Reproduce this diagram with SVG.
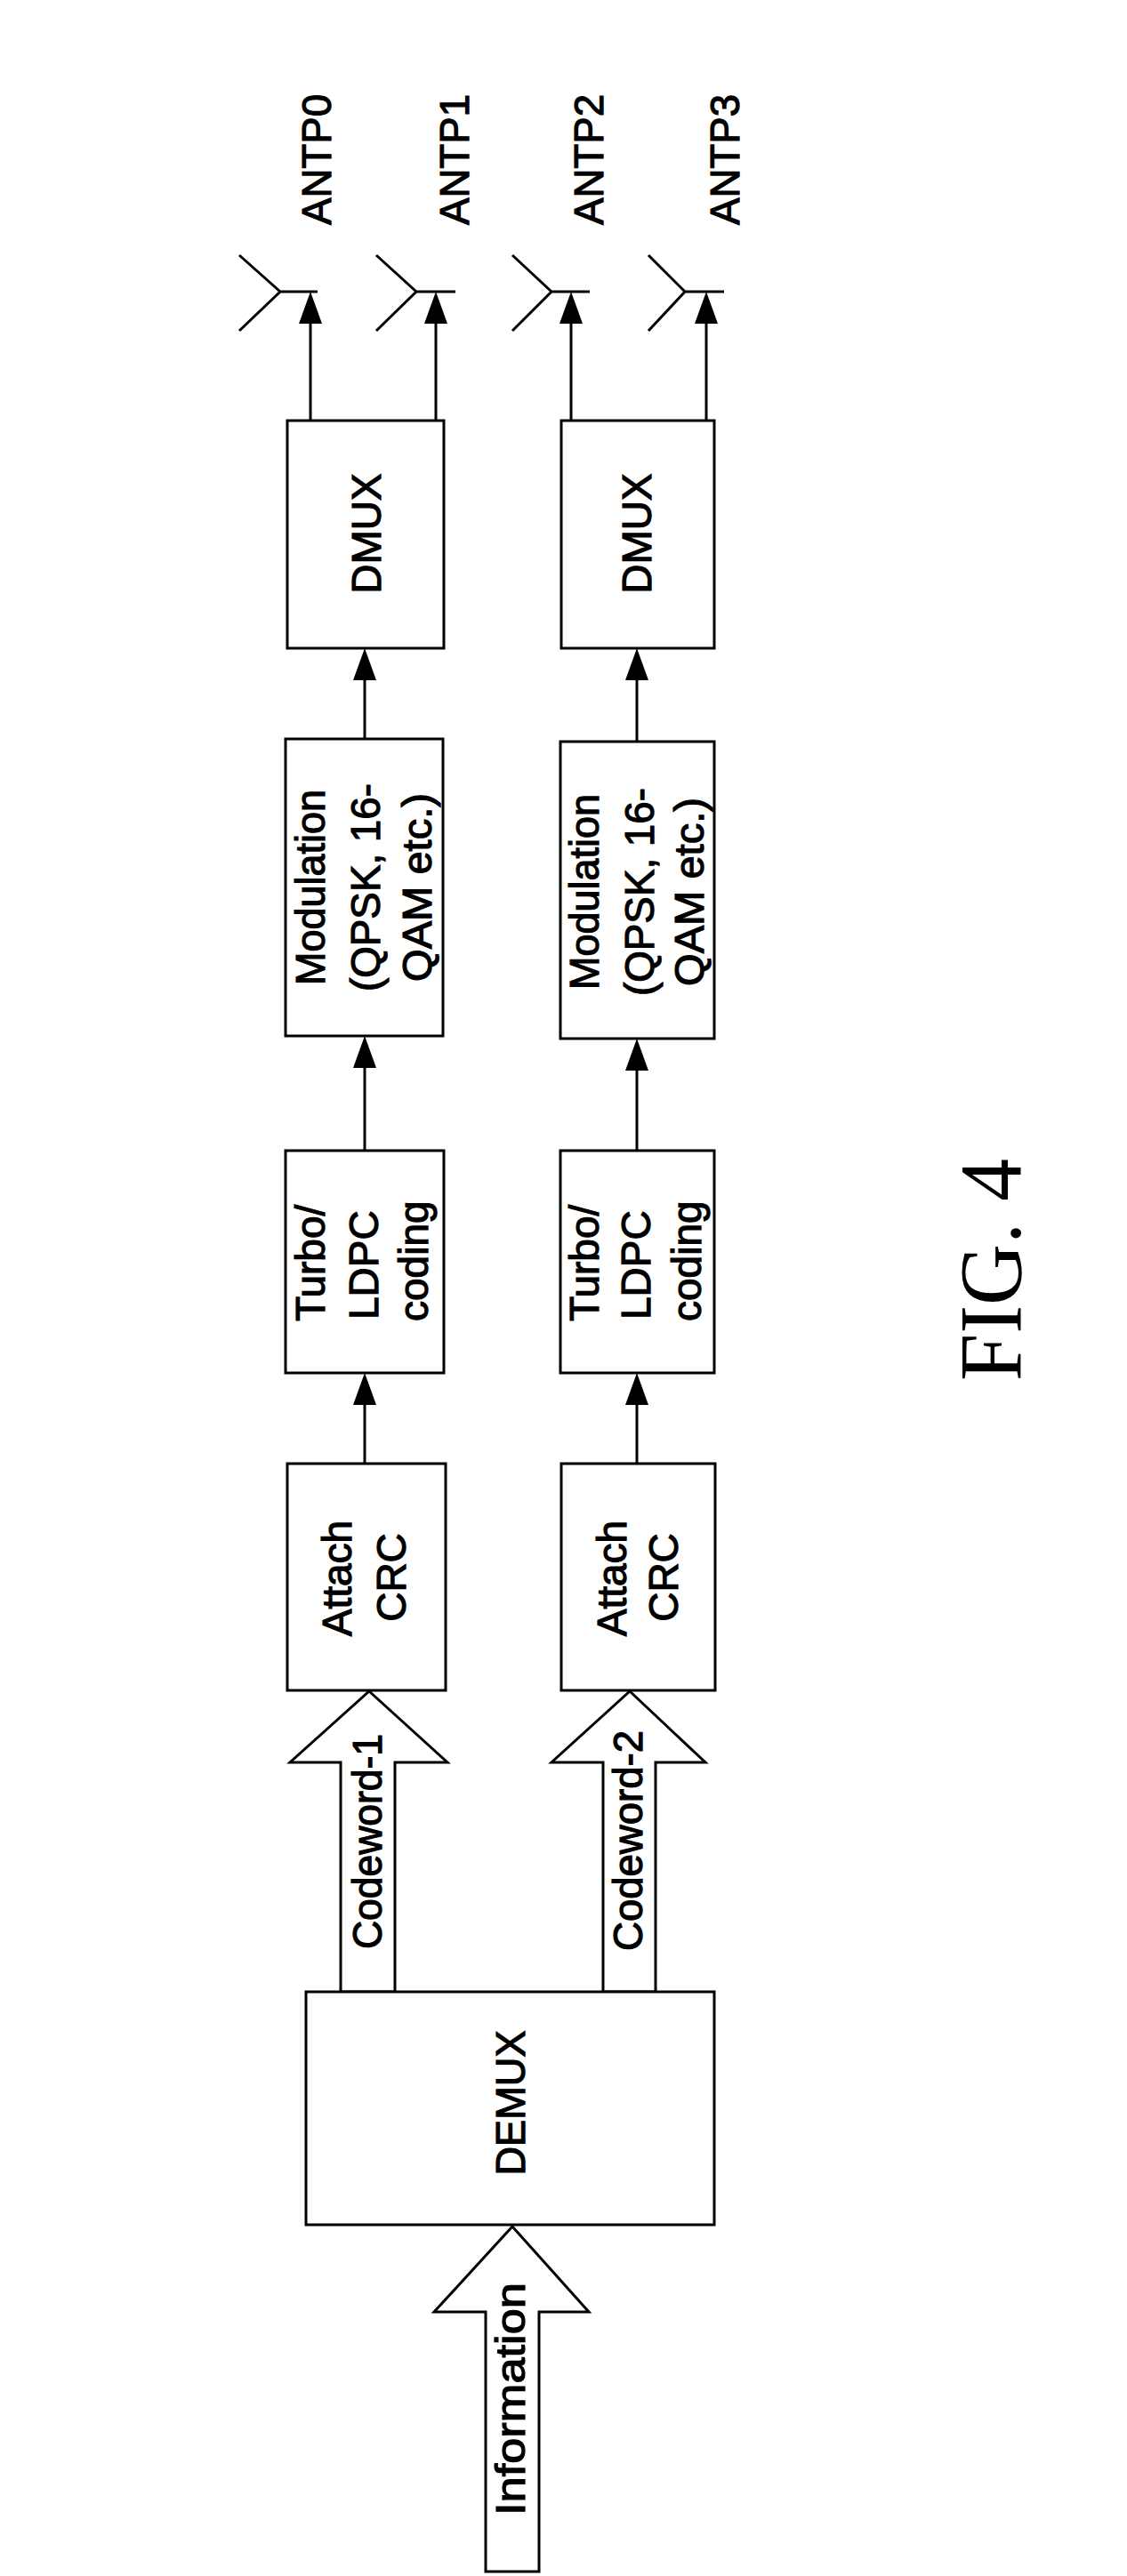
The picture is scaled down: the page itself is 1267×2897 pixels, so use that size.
<svg xmlns="http://www.w3.org/2000/svg" width="1267" height="2897" viewBox="0 0 1267 2897">
<style>
.b{fill:#fff;stroke:#000;stroke-width:3}
.t{font-family:"Liberation Sans",Arial,sans-serif;font-size:46px;fill:#000;stroke:#000;stroke-width:1.2}
.c{stroke:#000;stroke-width:3;fill:none}
.h{fill:#000}
</style>
<rect width="1267" height="2897" fill="#fff"/>
<g id="connectors">
<g class="c">
<line x1="349" y1="473" x2="349" y2="360"/><line x1="490" y1="473" x2="490" y2="360"/>
<line x1="642" y1="473" x2="642" y2="360"/><line x1="794" y1="473" x2="794" y2="360"/>
<line x1="410" y1="831" x2="410" y2="762"/><line x1="716" y1="834" x2="716" y2="762"/>
<line x1="410" y1="1294" x2="410" y2="1200"/><line x1="716" y1="1294" x2="716" y2="1200"/>
<line x1="410" y1="1646" x2="410" y2="1578"/><line x1="716" y1="1646" x2="716" y2="1578"/>
</g>
<g class="h">
<polygon points="349,328 336,364 362,364"/><polygon points="490,328 477,364 503,364"/>
<polygon points="642,328 629,364 655,364"/><polygon points="794,328 781,364 807,364"/>
<polygon points="410,729 397,765 423,765"/><polygon points="716,729 703,765 729,765"/>
<polygon points="410,1165 397,1201 423,1201"/><polygon points="716,1168 703,1204 729,1204"/>
<polygon points="410,1544 397,1580 423,1580"/><polygon points="716,1544 703,1580 729,1580"/>
</g>
</g>
<g id="antennas" class="c">
<path d="M269,287 L315,328 L269,372 M315,328 H357"/>
<path d="M423,287 L468,328 L423,372 M468,328 H512"/>
<path d="M576,287 L620,328 L576,372 M620,328 H663"/>
<path d="M729,287 L770,328 L729,372 M770,328 H814"/>
</g>
<g id="antp-labels" class="t">
<text transform="translate(372,253) rotate(-90)" textLength="147" lengthAdjust="spacingAndGlyphs">ANTP0</text>
<text transform="translate(527,253) rotate(-90)" textLength="147" lengthAdjust="spacingAndGlyphs">ANTP1</text>
<text transform="translate(678,253) rotate(-90)" textLength="147" lengthAdjust="spacingAndGlyphs">ANTP2</text>
<text transform="translate(831,253) rotate(-90)" textLength="147" lengthAdjust="spacingAndGlyphs">ANTP3</text>
</g>
<g id="dmux1"><rect class="b" x="323" y="473" width="176" height="256"/>
<text class="t" text-anchor="middle" transform="translate(428,600) rotate(-90)">DMUX</text></g>
<g id="dmux2"><rect class="b" x="631" y="473" width="172" height="256"/>
<text class="t" text-anchor="middle" transform="translate(732,600) rotate(-90)">DMUX</text></g>
<g id="mod1"><rect class="b" x="321" y="831" width="177" height="334"/>
<g class="t" text-anchor="middle">
<text transform="translate(365,998) rotate(-90)" textLength="220" lengthAdjust="spacingAndGlyphs">Modulation</text>
<text transform="translate(427,998) rotate(-90)" textLength="234" lengthAdjust="spacingAndGlyphs">(QPSK, 16-</text>
<text transform="translate(485,998) rotate(-90)" textLength="212" lengthAdjust="spacingAndGlyphs">QAM etc.)</text></g></g>
<g id="mod2"><rect class="b" x="630" y="834" width="173" height="334"/>
<g class="t" text-anchor="middle">
<text transform="translate(673,1003) rotate(-90)" textLength="220" lengthAdjust="spacingAndGlyphs">Modulation</text>
<text transform="translate(735,1003) rotate(-90)" textLength="234" lengthAdjust="spacingAndGlyphs">(QPSK, 16-</text>
<text transform="translate(791,1003) rotate(-90)" textLength="212" lengthAdjust="spacingAndGlyphs">QAM etc.)</text></g></g>
<g id="turbo1"><rect class="b" x="321" y="1294" width="178" height="250"/>
<g class="t">
<text transform="translate(365,1486) rotate(-90)">Turbo/</text>
<text transform="translate(425,1484) rotate(-90)">LDPC</text>
<text transform="translate(481,1486) rotate(-90)">coding</text></g></g>
<g id="turbo2"><rect class="b" x="630" y="1294" width="173" height="250"/>
<g class="t">
<text transform="translate(673,1486) rotate(-90)">Turbo/</text>
<text transform="translate(731,1484) rotate(-90)">LDPC</text>
<text transform="translate(788,1486) rotate(-90)">coding</text></g></g>
<g id="crc1"><rect class="b" x="323" y="1646" width="178" height="255"/>
<g class="t" text-anchor="middle">
<text transform="translate(395,1775) rotate(-90)">Attach</text>
<text transform="translate(456,1774) rotate(-90)">CRC</text></g></g>
<g id="crc2"><rect class="b" x="631" y="1646" width="173" height="255"/>
<g class="t" text-anchor="middle">
<text transform="translate(704,1775) rotate(-90)">Attach</text>
<text transform="translate(762,1774) rotate(-90)">CRC</text></g></g>
<g id="codeword1"><polygon class="b" points="415,1902 503,1982 444,1982 444,2240 383,2240 383,1982 326,1982"/>
<text class="t" text-anchor="middle" transform="translate(429,2071) rotate(-90)" textLength="242" lengthAdjust="spacingAndGlyphs">Codeword-1</text></g>
<g id="codeword2"><polygon class="b" points="708,1902 793,1982 737,1982 737,2240 678,2240 678,1982 620,1982"/>
<text class="t" text-anchor="middle" transform="translate(722,2070) rotate(-90)" textLength="248" lengthAdjust="spacingAndGlyphs">Codeword-2</text></g>
<g id="demux"><rect class="b" x="344" y="2240" width="459" height="262"/>
<text class="t" text-anchor="middle" transform="translate(590,2365) rotate(-90)" textLength="163" lengthAdjust="spacingAndGlyphs">DEMUX</text></g>
<g id="information"><polygon class="b" points="576,2504 662,2600 606,2600 606,2892 546,2892 546,2600 488,2600"/>
<text class="t" text-anchor="middle" transform="translate(590,2698) rotate(-90)" textLength="262" lengthAdjust="spacingAndGlyphs">Information</text></g>
<g id="caption"><text transform="translate(1147,1428) rotate(-90)" text-anchor="middle" font-family="'Liberation Serif','Times New Roman',serif" font-size="100" textLength="250" lengthAdjust="spacingAndGlyphs">FIG. 4</text></g>
</svg>
